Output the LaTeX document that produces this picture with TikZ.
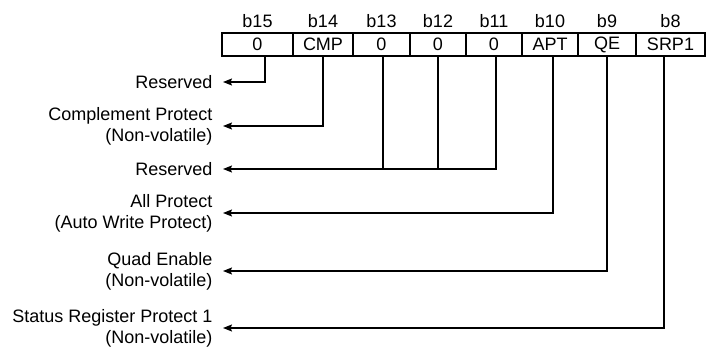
\documentclass[tikz,border=0pt]{standalone}
\usepackage{fontspec}
\setmainfont{Liberation Sans}
\usetikzlibrary{arrows.meta,positioning}

\begin{document}
\begin{tikzpicture}[x=1pt, y=-1pt, >={Stealth[length=9pt, width=7pt, inset=1.5pt]}, line width=1.2pt,
  every node/.style={font=\fontsize{18}{21}\selectfont},
  cell/.style={draw, minimum height=23pt, inner sep=0pt},
  bitnum/.style={inner sep=0pt},
  desc/.style={align=right, anchor=east, inner xsep=10pt, inner ysep=0pt}]
                \useasboundingbox (0,0) rectangle (707,346);

                % Thanh ghi (các ô bit)
                \node[cell, minimum width=71pt] (b15) at (257.5,44.5) {0};
                \node[cell, minimum width=60pt] (b14) at (323,44.5) {CMP};
                \node[cell, minimum width=57pt] (b13) at (381.5,44.5) {0};
                \node[cell, minimum width=56pt] (b12) at (438,44.5) {0};
                \node[cell, minimum width=56pt] (b11) at (494,44.5) {0};
                \node[cell, minimum width=56pt] (b10) at (550,44.5) {APT};
                \node[cell, minimum width=58pt] (b9) at (607,44.5) {QE};
                \node[cell, minimum width=69pt] (b8) at (670.5,44.5) {SRP1};

                % Số thứ tự bit
                \node[bitnum, above=4.5pt of b15] {b15};
                \node[bitnum, above=4.5pt of b14] {b14};
                \node[bitnum, above=4.5pt of b13] {b13};
                \node[bitnum, above=4.5pt of b12] {b12};
                \node[bitnum, above=4.5pt of b11] {b11};
                \node[bitnum, above=4.5pt of b10] {b10};
                \node[bitnum, above=4.5pt of b9] {b9};
                \node[bitnum, above=4.5pt of b8] {b8};

                % Mô tả
                \node[desc] (res1) at (223,82) {Reserved};
                \node[desc] (cmp) at (223,126) {Complement Protect\\(Non-volatile)};
                \node[desc] (res2) at (223,169) {Reserved};
                \node[desc] (apt) at (223,213) {All Protect\\(Auto Write Protect)};
                \node[desc] (qe) at (223,271) {Quad Enable\\(Non-volatile)};
                \node[desc] (srp) at (223,328) {Status Register Protect 1\\(Non-volatile)};

                % Đường nối
                \draw[->] ([xshift=7.5pt]b15.south) |- (res1.east);
                \draw[->] (b14.south) |- (cmp.east);
                \draw ([xshift=1.5pt]b13.south) -- ([xshift=1.5pt]b13.south |- res2.east);
                \draw (b12.south) -- (b12.south |- res2.east);
                \draw[->] ([xshift=2pt]b11.south) |- (res2.east);
                \draw[->] ([xshift=3pt]b10.south) |- (apt.east);
                \draw[->] (b9.south) |- (qe.east);
                \draw[->] ([xshift=-6.5pt]b8.south) |- (srp.east);
            \end{tikzpicture}
\end{document}
